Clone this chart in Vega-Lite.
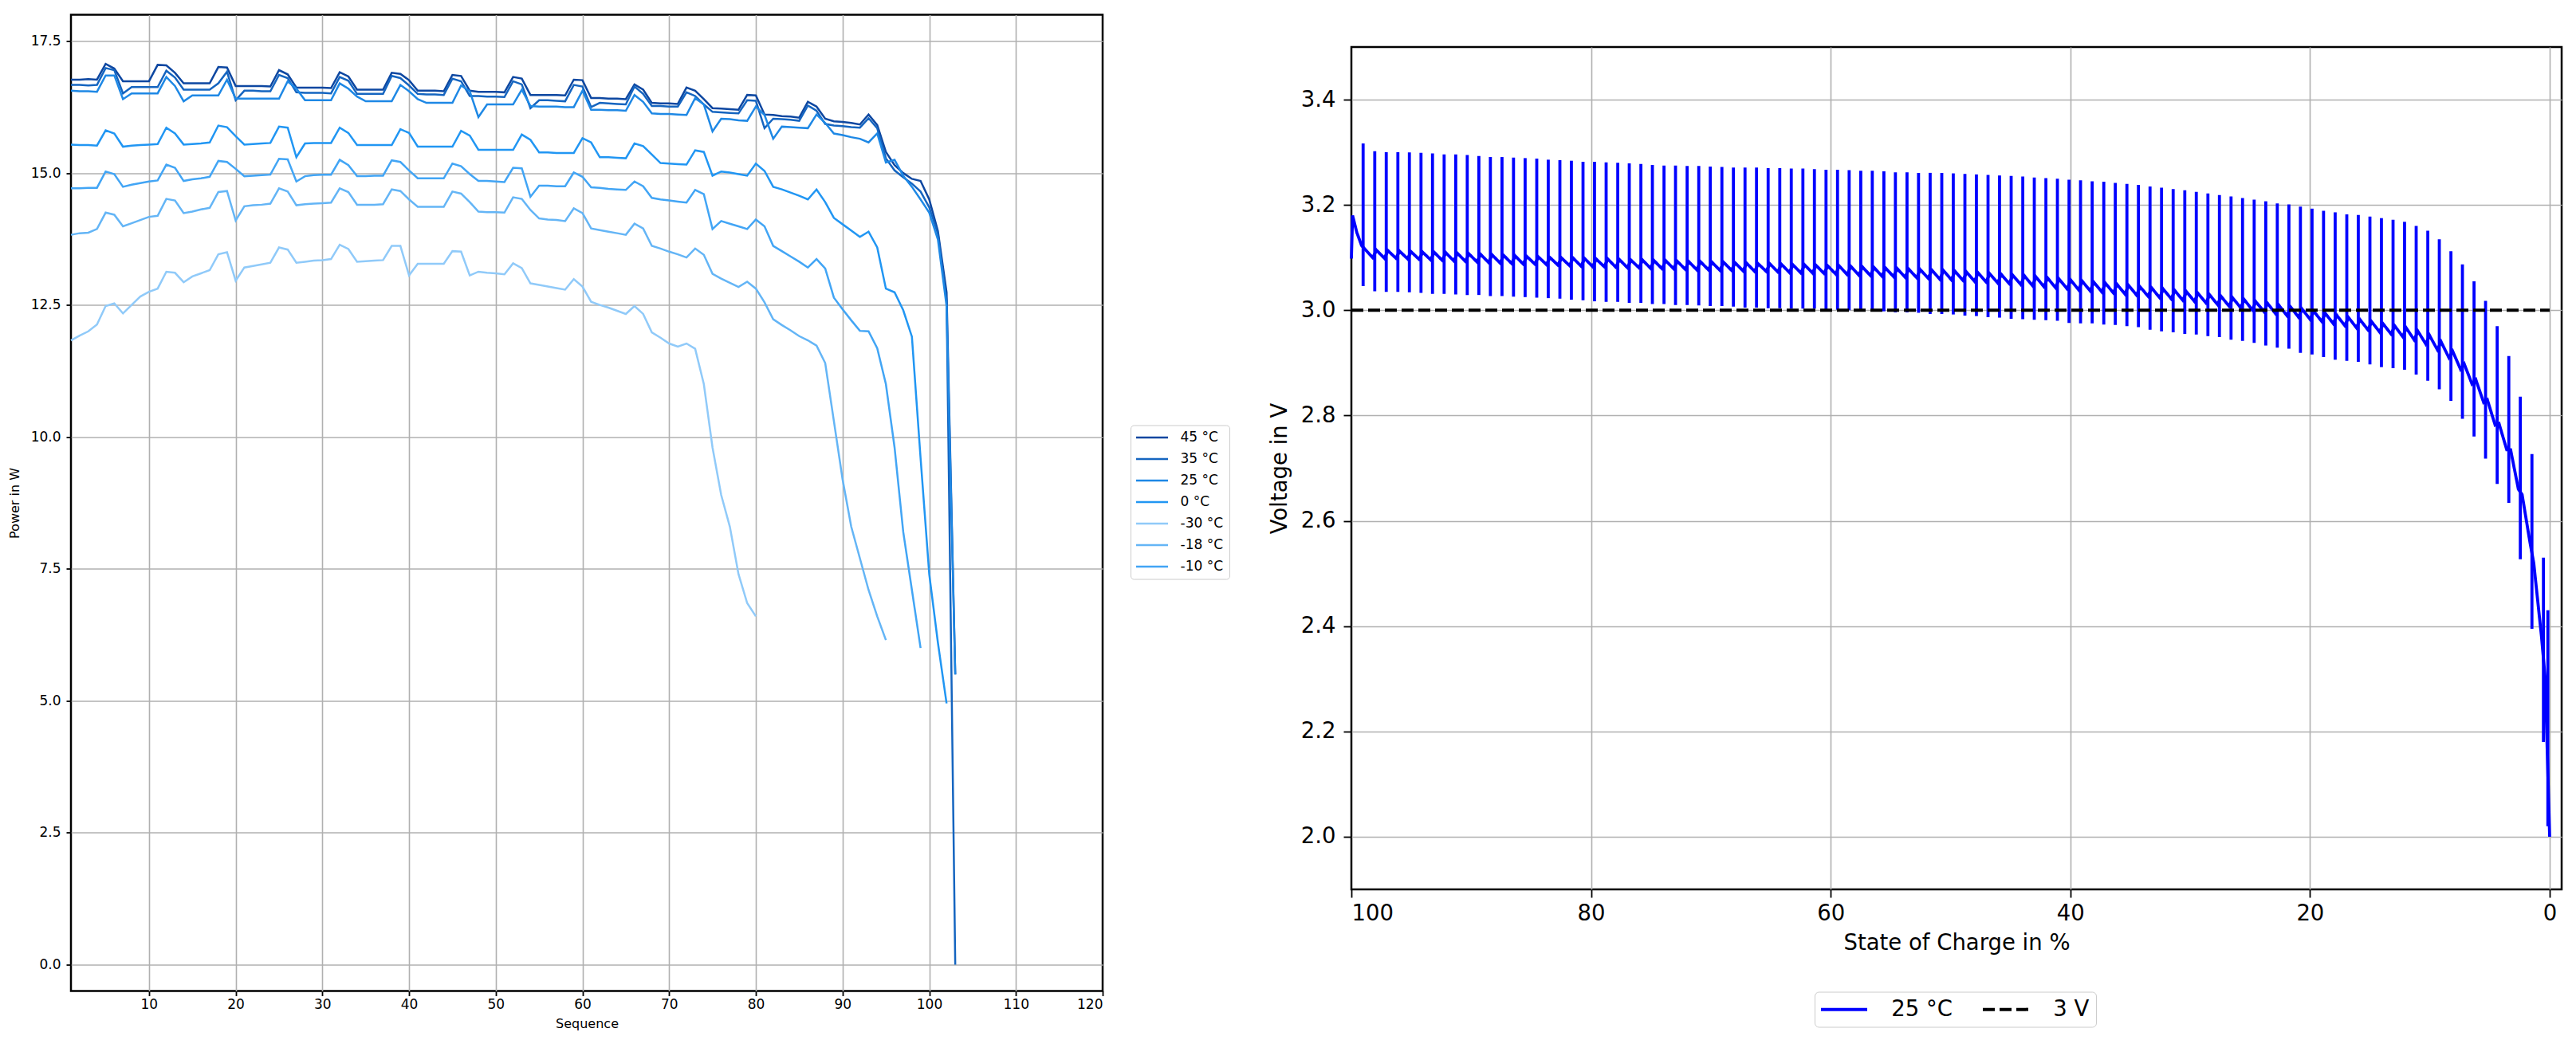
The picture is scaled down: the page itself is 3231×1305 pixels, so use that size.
{
  "$schema": "https://vega.github.io/schema/vega-lite/v6.json",
  "background": "white",
  "padding": {"left": 8, "top": 16.5, "right": 0, "bottom": 0},
  "spacing": 46,
  "config": {
    "font": "DejaVu Sans",
    "view": {"stroke": "#000000", "strokeWidth": 2.5},
    "axis": {
      "domain": false,
      "gridColor": "#b0b0b0",
      "gridWidth": 1.6,
      "tickColor": "#000000",
      "tickWidth": 1.8,
      "labelColor": "#000000",
      "titleColor": "#000000",
      "titleFontWeight": "normal",
      "labelFont": "DejaVu Sans",
      "titleFont": "DejaVu Sans"
    },
    "legend": {"labelFont": "DejaVu Sans", "labelColor": "#000000"}
  },
  "resolve": {
    "scale": {"color": "independent", "strokeDash": "independent"},
    "legend": {"color": "independent", "strokeDash": "independent"}
  },
  "hconcat": [
    {
      "width": 1294,
      "height": 1225,
      "data": {
        "values": [
          {"T":"45 °C","x":1,"y":16.77},{"T":"45 °C","x":2,"y":16.77},{"T":"45 °C","x":3,"y":16.78},{"T":"45 °C","x":4,"y":16.77},{"T":"45 °C","x":5,"y":17.07},{"T":"45 °C","x":6,"y":16.98},{"T":"45 °C","x":7,"y":16.74},{"T":"45 °C","x":8,"y":16.74},{"T":"45 °C","x":9,"y":16.74},{"T":"45 °C","x":10,"y":16.74},
          {"T":"45 °C","x":11,"y":17.05},{"T":"45 °C","x":12,"y":17.04},{"T":"45 °C","x":13,"y":16.9},{"T":"45 °C","x":14,"y":16.7},{"T":"45 °C","x":15,"y":16.7},{"T":"45 °C","x":16,"y":16.7},{"T":"45 °C","x":17,"y":16.7},{"T":"45 °C","x":18,"y":17.01},{"T":"45 °C","x":19,"y":17.0},{"T":"45 °C","x":20,"y":16.65},
          {"T":"45 °C","x":21,"y":16.65},{"T":"45 °C","x":22,"y":16.65},{"T":"45 °C","x":23,"y":16.65},{"T":"45 °C","x":24,"y":16.64},{"T":"45 °C","x":25,"y":16.95},{"T":"45 °C","x":26,"y":16.87},{"T":"45 °C","x":27,"y":16.62},{"T":"45 °C","x":28,"y":16.62},{"T":"45 °C","x":29,"y":16.62},{"T":"45 °C","x":30,"y":16.62},
          {"T":"45 °C","x":31,"y":16.61},{"T":"45 °C","x":32,"y":16.91},{"T":"45 °C","x":33,"y":16.83},{"T":"45 °C","x":34,"y":16.58},{"T":"45 °C","x":35,"y":16.58},{"T":"45 °C","x":36,"y":16.58},{"T":"45 °C","x":37,"y":16.58},{"T":"45 °C","x":38,"y":16.9},{"T":"45 °C","x":39,"y":16.88},{"T":"45 °C","x":40,"y":16.76},
          {"T":"45 °C","x":41,"y":16.56},{"T":"45 °C","x":42,"y":16.56},{"T":"45 °C","x":43,"y":16.56},{"T":"45 °C","x":44,"y":16.55},{"T":"45 °C","x":45,"y":16.86},{"T":"45 °C","x":46,"y":16.84},{"T":"45 °C","x":47,"y":16.56},{"T":"45 °C","x":48,"y":16.54},{"T":"45 °C","x":49,"y":16.54},{"T":"45 °C","x":50,"y":16.54},
          {"T":"45 °C","x":51,"y":16.53},{"T":"45 °C","x":52,"y":16.82},{"T":"45 °C","x":53,"y":16.79},{"T":"45 °C","x":54,"y":16.48},{"T":"45 °C","x":55,"y":16.48},{"T":"45 °C","x":56,"y":16.48},{"T":"45 °C","x":57,"y":16.48},{"T":"45 °C","x":58,"y":16.47},{"T":"45 °C","x":59,"y":16.77},{"T":"45 °C","x":60,"y":16.76},
          {"T":"45 °C","x":61,"y":16.42},{"T":"45 °C","x":62,"y":16.42},{"T":"45 °C","x":63,"y":16.41},{"T":"45 °C","x":64,"y":16.41},{"T":"45 °C","x":65,"y":16.4},{"T":"45 °C","x":66,"y":16.68},{"T":"45 °C","x":67,"y":16.58},{"T":"45 °C","x":68,"y":16.33},{"T":"45 °C","x":69,"y":16.32},{"T":"45 °C","x":70,"y":16.32},
          {"T":"45 °C","x":71,"y":16.31},{"T":"45 °C","x":72,"y":16.62},{"T":"45 °C","x":73,"y":16.56},{"T":"45 °C","x":74,"y":16.4},{"T":"45 °C","x":75,"y":16.23},{"T":"45 °C","x":76,"y":16.22},{"T":"45 °C","x":77,"y":16.21},{"T":"45 °C","x":78,"y":16.2},{"T":"45 °C","x":79,"y":16.48},{"T":"45 °C","x":80,"y":16.47},
          {"T":"45 °C","x":81,"y":16.11},{"T":"45 °C","x":82,"y":16.1},{"T":"45 °C","x":83,"y":16.08},{"T":"45 °C","x":84,"y":16.07},{"T":"45 °C","x":85,"y":16.05},{"T":"45 °C","x":86,"y":16.35},{"T":"45 °C","x":87,"y":16.26},{"T":"45 °C","x":88,"y":16.03},{"T":"45 °C","x":89,"y":15.98},{"T":"45 °C","x":90,"y":15.97},
          {"T":"45 °C","x":91,"y":15.95},{"T":"45 °C","x":92,"y":15.92},{"T":"45 °C","x":93,"y":16.11},{"T":"45 °C","x":94,"y":15.91},{"T":"45 °C","x":95,"y":15.4},{"T":"45 °C","x":96,"y":15.15},{"T":"45 °C","x":97,"y":15.0},{"T":"45 °C","x":98,"y":14.89},{"T":"45 °C","x":99,"y":14.85},{"T":"45 °C","x":100,"y":14.5},
          {"T":"45 °C","x":101,"y":13.9},{"T":"45 °C","x":102,"y":12.74},{"T":"45 °C","x":103,"y":5.5},

          {"T":"35 °C","x":1,"y":16.67},{"T":"35 °C","x":2,"y":16.67},{"T":"35 °C","x":3,"y":16.66},{"T":"35 °C","x":4,"y":16.67},{"T":"35 °C","x":5,"y":16.99},{"T":"35 °C","x":6,"y":16.95},{"T":"35 °C","x":7,"y":16.51},{"T":"35 °C","x":8,"y":16.63},{"T":"35 °C","x":9,"y":16.63},{"T":"35 °C","x":10,"y":16.63},
          {"T":"35 °C","x":11,"y":16.63},{"T":"35 °C","x":12,"y":16.94},{"T":"35 °C","x":13,"y":16.81},{"T":"35 °C","x":14,"y":16.58},{"T":"35 °C","x":15,"y":16.58},{"T":"35 °C","x":16,"y":16.58},{"T":"35 °C","x":17,"y":16.58},{"T":"35 °C","x":18,"y":16.7},{"T":"35 °C","x":19,"y":16.92},{"T":"35 °C","x":20,"y":16.38},
          {"T":"35 °C","x":21,"y":16.56},{"T":"35 °C","x":22,"y":16.56},{"T":"35 °C","x":23,"y":16.55},{"T":"35 °C","x":24,"y":16.55},{"T":"35 °C","x":25,"y":16.86},{"T":"35 °C","x":26,"y":16.8},{"T":"35 °C","x":27,"y":16.53},{"T":"35 °C","x":28,"y":16.52},{"T":"35 °C","x":29,"y":16.52},{"T":"35 °C","x":30,"y":16.52},
          {"T":"35 °C","x":31,"y":16.51},{"T":"35 °C","x":32,"y":16.82},{"T":"35 °C","x":33,"y":16.75},{"T":"35 °C","x":34,"y":16.5},{"T":"35 °C","x":35,"y":16.5},{"T":"35 °C","x":36,"y":16.5},{"T":"35 °C","x":37,"y":16.5},{"T":"35 °C","x":38,"y":16.84},{"T":"35 °C","x":39,"y":16.8},{"T":"35 °C","x":40,"y":16.66},
          {"T":"35 °C","x":41,"y":16.5},{"T":"35 °C","x":42,"y":16.49},{"T":"35 °C","x":43,"y":16.49},{"T":"35 °C","x":44,"y":16.48},{"T":"35 °C","x":45,"y":16.79},{"T":"35 °C","x":46,"y":16.74},{"T":"35 °C","x":47,"y":16.46},{"T":"35 °C","x":48,"y":16.46},{"T":"35 °C","x":49,"y":16.45},{"T":"35 °C","x":50,"y":16.45},
          {"T":"35 °C","x":51,"y":16.44},{"T":"35 °C","x":52,"y":16.74},{"T":"35 °C","x":53,"y":16.68},{"T":"35 °C","x":54,"y":16.23},{"T":"35 °C","x":55,"y":16.38},{"T":"35 °C","x":56,"y":16.38},{"T":"35 °C","x":57,"y":16.37},{"T":"35 °C","x":58,"y":16.36},{"T":"35 °C","x":59,"y":16.67},{"T":"35 °C","x":60,"y":16.64},
          {"T":"35 °C","x":61,"y":16.25},{"T":"35 °C","x":62,"y":16.33},{"T":"35 °C","x":63,"y":16.32},{"T":"35 °C","x":64,"y":16.31},{"T":"35 °C","x":65,"y":16.3},{"T":"35 °C","x":66,"y":16.64},{"T":"35 °C","x":67,"y":16.5},{"T":"35 °C","x":68,"y":16.27},{"T":"35 °C","x":69,"y":16.27},{"T":"35 °C","x":70,"y":16.26},
          {"T":"35 °C","x":71,"y":16.26},{"T":"35 °C","x":72,"y":16.53},{"T":"35 °C","x":73,"y":16.46},{"T":"35 °C","x":74,"y":16.3},{"T":"35 °C","x":75,"y":16.16},{"T":"35 °C","x":76,"y":16.15},{"T":"35 °C","x":77,"y":16.14},{"T":"35 °C","x":78,"y":16.13},{"T":"35 °C","x":79,"y":16.38},{"T":"35 °C","x":80,"y":16.37},
          {"T":"35 °C","x":81,"y":15.85},{"T":"35 °C","x":82,"y":16.03},{"T":"35 °C","x":83,"y":16.02},{"T":"35 °C","x":84,"y":16.01},{"T":"35 °C","x":85,"y":15.99},{"T":"35 °C","x":86,"y":16.28},{"T":"35 °C","x":87,"y":16.18},{"T":"35 °C","x":88,"y":15.93},{"T":"35 °C","x":89,"y":15.9},{"T":"35 °C","x":90,"y":15.89},
          {"T":"35 °C","x":91,"y":15.87},{"T":"35 °C","x":92,"y":15.86},{"T":"35 °C","x":93,"y":16.04},{"T":"35 °C","x":94,"y":15.85},{"T":"35 °C","x":95,"y":15.28},{"T":"35 °C","x":96,"y":15.05},{"T":"35 °C","x":97,"y":14.92},{"T":"35 °C","x":98,"y":14.8},{"T":"35 °C","x":99,"y":14.65},{"T":"35 °C","x":100,"y":14.35},
          {"T":"35 °C","x":101,"y":13.85},{"T":"35 °C","x":102,"y":12.59},{"T":"35 °C","x":103,"y":0.0},

          {"T":"25 °C","x":1,"y":16.56},{"T":"25 °C","x":2,"y":16.55},{"T":"25 °C","x":3,"y":16.55},{"T":"25 °C","x":4,"y":16.54},{"T":"25 °C","x":5,"y":16.85},{"T":"25 °C","x":6,"y":16.85},{"T":"25 °C","x":7,"y":16.4},{"T":"25 °C","x":8,"y":16.51},{"T":"25 °C","x":9,"y":16.51},{"T":"25 °C","x":10,"y":16.51},
          {"T":"25 °C","x":11,"y":16.51},{"T":"25 °C","x":12,"y":16.82},{"T":"25 °C","x":13,"y":16.65},{"T":"25 °C","x":14,"y":16.36},{"T":"25 °C","x":15,"y":16.47},{"T":"25 °C","x":16,"y":16.47},{"T":"25 °C","x":17,"y":16.47},{"T":"25 °C","x":18,"y":16.47},{"T":"25 °C","x":19,"y":16.77},{"T":"25 °C","x":20,"y":16.41},
          {"T":"25 °C","x":21,"y":16.41},{"T":"25 °C","x":22,"y":16.41},{"T":"25 °C","x":23,"y":16.41},{"T":"25 °C","x":24,"y":16.41},{"T":"25 °C","x":25,"y":16.41},{"T":"25 °C","x":26,"y":16.74},{"T":"25 °C","x":27,"y":16.6},{"T":"25 °C","x":28,"y":16.38},{"T":"25 °C","x":29,"y":16.38},{"T":"25 °C","x":30,"y":16.38},
          {"T":"25 °C","x":31,"y":16.38},{"T":"25 °C","x":32,"y":16.7},{"T":"25 °C","x":33,"y":16.6},{"T":"25 °C","x":34,"y":16.45},{"T":"25 °C","x":35,"y":16.36},{"T":"25 °C","x":36,"y":16.36},{"T":"25 °C","x":37,"y":16.36},{"T":"25 °C","x":38,"y":16.36},{"T":"25 °C","x":39,"y":16.67},{"T":"25 °C","x":40,"y":16.55},
          {"T":"25 °C","x":41,"y":16.4},{"T":"25 °C","x":42,"y":16.33},{"T":"25 °C","x":43,"y":16.33},{"T":"25 °C","x":44,"y":16.33},{"T":"25 °C","x":45,"y":16.33},{"T":"25 °C","x":46,"y":16.66},{"T":"25 °C","x":47,"y":16.55},{"T":"25 °C","x":48,"y":16.06},{"T":"25 °C","x":49,"y":16.3},{"T":"25 °C","x":50,"y":16.3},
          {"T":"25 °C","x":51,"y":16.3},{"T":"25 °C","x":52,"y":16.3},{"T":"25 °C","x":53,"y":16.58},{"T":"25 °C","x":54,"y":16.27},{"T":"25 °C","x":55,"y":16.26},{"T":"25 °C","x":56,"y":16.26},{"T":"25 °C","x":57,"y":16.26},{"T":"25 °C","x":58,"y":16.25},{"T":"25 °C","x":59,"y":16.25},{"T":"25 °C","x":60,"y":16.56},
          {"T":"25 °C","x":61,"y":16.2},{"T":"25 °C","x":62,"y":16.2},{"T":"25 °C","x":63,"y":16.19},{"T":"25 °C","x":64,"y":16.19},{"T":"25 °C","x":65,"y":16.18},{"T":"25 °C","x":66,"y":16.48},{"T":"25 °C","x":67,"y":16.35},{"T":"25 °C","x":68,"y":16.13},{"T":"25 °C","x":69,"y":16.12},{"T":"25 °C","x":70,"y":16.12},
          {"T":"25 °C","x":71,"y":16.11},{"T":"25 °C","x":72,"y":16.1},{"T":"25 °C","x":73,"y":16.42},{"T":"25 °C","x":74,"y":16.3},{"T":"25 °C","x":75,"y":15.79},{"T":"25 °C","x":76,"y":16.03},{"T":"25 °C","x":77,"y":16.02},{"T":"25 °C","x":78,"y":16.0},{"T":"25 °C","x":79,"y":15.99},{"T":"25 °C","x":80,"y":16.26},
          {"T":"25 °C","x":81,"y":16.1},{"T":"25 °C","x":82,"y":15.65},{"T":"25 °C","x":83,"y":15.88},{"T":"25 °C","x":84,"y":15.87},{"T":"25 °C","x":85,"y":15.86},{"T":"25 °C","x":86,"y":15.85},{"T":"25 °C","x":87,"y":16.11},{"T":"25 °C","x":88,"y":15.95},{"T":"25 °C","x":89,"y":15.75},{"T":"25 °C","x":90,"y":15.72},
          {"T":"25 °C","x":91,"y":15.68},{"T":"25 °C","x":92,"y":15.65},{"T":"25 °C","x":93,"y":15.58},{"T":"25 °C","x":94,"y":15.75},{"T":"25 °C","x":95,"y":15.2},{"T":"25 °C","x":96,"y":15.25},{"T":"25 °C","x":97,"y":14.95},{"T":"25 °C","x":98,"y":14.74},{"T":"25 °C","x":99,"y":14.5},{"T":"25 °C","x":100,"y":14.25},
          {"T":"25 °C","x":101,"y":13.74},{"T":"25 °C","x":102,"y":12.48},{"T":"25 °C","x":103,"y":5.5},

          {"T":"0 °C","x":1,"y":15.54},{"T":"0 °C","x":2,"y":15.53},{"T":"0 °C","x":3,"y":15.53},{"T":"0 °C","x":4,"y":15.52},{"T":"0 °C","x":5,"y":15.81},{"T":"0 °C","x":6,"y":15.75},{"T":"0 °C","x":7,"y":15.5},{"T":"0 °C","x":8,"y":15.52},{"T":"0 °C","x":9,"y":15.53},{"T":"0 °C","x":10,"y":15.54},
          {"T":"0 °C","x":11,"y":15.55},{"T":"0 °C","x":12,"y":15.86},{"T":"0 °C","x":13,"y":15.75},{"T":"0 °C","x":14,"y":15.54},{"T":"0 °C","x":15,"y":15.55},{"T":"0 °C","x":16,"y":15.56},{"T":"0 °C","x":17,"y":15.58},{"T":"0 °C","x":18,"y":15.9},{"T":"0 °C","x":19,"y":15.87},{"T":"0 °C","x":20,"y":15.7},
          {"T":"0 °C","x":21,"y":15.54},{"T":"0 °C","x":22,"y":15.55},{"T":"0 °C","x":23,"y":15.56},{"T":"0 °C","x":24,"y":15.57},{"T":"0 °C","x":25,"y":15.88},{"T":"0 °C","x":26,"y":15.86},{"T":"0 °C","x":27,"y":15.3},{"T":"0 °C","x":28,"y":15.56},{"T":"0 °C","x":29,"y":15.57},{"T":"0 °C","x":30,"y":15.57},
          {"T":"0 °C","x":31,"y":15.57},{"T":"0 °C","x":32,"y":15.86},{"T":"0 °C","x":33,"y":15.76},{"T":"0 °C","x":34,"y":15.53},{"T":"0 °C","x":35,"y":15.53},{"T":"0 °C","x":36,"y":15.53},{"T":"0 °C","x":37,"y":15.53},{"T":"0 °C","x":38,"y":15.53},{"T":"0 °C","x":39,"y":15.83},{"T":"0 °C","x":40,"y":15.76},
          {"T":"0 °C","x":41,"y":15.5},{"T":"0 °C","x":42,"y":15.5},{"T":"0 °C","x":43,"y":15.5},{"T":"0 °C","x":44,"y":15.5},{"T":"0 °C","x":45,"y":15.5},{"T":"0 °C","x":46,"y":15.8},{"T":"0 °C","x":47,"y":15.71},{"T":"0 °C","x":48,"y":15.44},{"T":"0 °C","x":49,"y":15.44},{"T":"0 °C","x":50,"y":15.44},
          {"T":"0 °C","x":51,"y":15.44},{"T":"0 °C","x":52,"y":15.44},{"T":"0 °C","x":53,"y":15.73},{"T":"0 °C","x":54,"y":15.63},{"T":"0 °C","x":55,"y":15.39},{"T":"0 °C","x":56,"y":15.39},{"T":"0 °C","x":57,"y":15.38},{"T":"0 °C","x":58,"y":15.38},{"T":"0 °C","x":59,"y":15.38},{"T":"0 °C","x":60,"y":15.66},
          {"T":"0 °C","x":61,"y":15.58},{"T":"0 °C","x":62,"y":15.3},{"T":"0 °C","x":63,"y":15.3},{"T":"0 °C","x":64,"y":15.29},{"T":"0 °C","x":65,"y":15.28},{"T":"0 °C","x":66,"y":15.56},{"T":"0 °C","x":67,"y":15.51},{"T":"0 °C","x":68,"y":15.35},{"T":"0 °C","x":69,"y":15.19},{"T":"0 °C","x":70,"y":15.18},
          {"T":"0 °C","x":71,"y":15.17},{"T":"0 °C","x":72,"y":15.16},{"T":"0 °C","x":73,"y":15.43},{"T":"0 °C","x":74,"y":15.4},{"T":"0 °C","x":75,"y":14.95},{"T":"0 °C","x":76,"y":15.03},{"T":"0 °C","x":77,"y":15.01},{"T":"0 °C","x":78,"y":14.98},{"T":"0 °C","x":79,"y":14.95},{"T":"0 °C","x":80,"y":15.18},
          {"T":"0 °C","x":81,"y":15.04},{"T":"0 °C","x":82,"y":14.74},{"T":"0 °C","x":83,"y":14.69},{"T":"0 °C","x":84,"y":14.63},{"T":"0 °C","x":85,"y":14.57},{"T":"0 °C","x":86,"y":14.5},{"T":"0 °C","x":87,"y":14.69},{"T":"0 °C","x":88,"y":14.45},{"T":"0 °C","x":89,"y":14.15},{"T":"0 °C","x":90,"y":14.03},
          {"T":"0 °C","x":91,"y":13.91},{"T":"0 °C","x":92,"y":13.79},{"T":"0 °C","x":93,"y":13.89},{"T":"0 °C","x":94,"y":13.59},{"T":"0 °C","x":95,"y":12.81},{"T":"0 °C","x":96,"y":12.74},{"T":"0 °C","x":97,"y":12.4},{"T":"0 °C","x":98,"y":11.9},{"T":"0 °C","x":99,"y":9.6},{"T":"0 °C","x":100,"y":7.4},
          {"T":"0 °C","x":101,"y":6.1},{"T":"0 °C","x":102,"y":4.95},

          {"T":"-30 °C","x":1,"y":11.83},{"T":"-30 °C","x":2,"y":11.92},{"T":"-30 °C","x":3,"y":12.0},{"T":"-30 °C","x":4,"y":12.13},{"T":"-30 °C","x":5,"y":12.48},{"T":"-30 °C","x":6,"y":12.53},{"T":"-30 °C","x":7,"y":12.34},{"T":"-30 °C","x":8,"y":12.5},{"T":"-30 °C","x":9,"y":12.66},{"T":"-30 °C","x":10,"y":12.75},
          {"T":"-30 °C","x":11,"y":12.81},{"T":"-30 °C","x":12,"y":13.13},{"T":"-30 °C","x":13,"y":13.11},{"T":"-30 °C","x":14,"y":12.93},{"T":"-30 °C","x":15,"y":13.04},{"T":"-30 °C","x":16,"y":13.1},{"T":"-30 °C","x":17,"y":13.16},{"T":"-30 °C","x":18,"y":13.46},{"T":"-30 °C","x":19,"y":13.5},{"T":"-30 °C","x":20,"y":12.96},
          {"T":"-30 °C","x":21,"y":13.21},{"T":"-30 °C","x":22,"y":13.24},{"T":"-30 °C","x":23,"y":13.27},{"T":"-30 °C","x":24,"y":13.3},{"T":"-30 °C","x":25,"y":13.59},{"T":"-30 °C","x":26,"y":13.55},{"T":"-30 °C","x":27,"y":13.3},{"T":"-30 °C","x":28,"y":13.32},{"T":"-30 °C","x":29,"y":13.34},{"T":"-30 °C","x":30,"y":13.35},
          {"T":"-30 °C","x":31,"y":13.37},{"T":"-30 °C","x":32,"y":13.64},{"T":"-30 °C","x":33,"y":13.56},{"T":"-30 °C","x":34,"y":13.32},{"T":"-30 °C","x":35,"y":13.33},{"T":"-30 °C","x":36,"y":13.34},{"T":"-30 °C","x":37,"y":13.35},{"T":"-30 °C","x":38,"y":13.62},{"T":"-30 °C","x":39,"y":13.62},{"T":"-30 °C","x":40,"y":13.06},
          {"T":"-30 °C","x":41,"y":13.28},{"T":"-30 °C","x":42,"y":13.28},{"T":"-30 °C","x":43,"y":13.28},{"T":"-30 °C","x":44,"y":13.28},{"T":"-30 °C","x":45,"y":13.52},{"T":"-30 °C","x":46,"y":13.51},{"T":"-30 °C","x":47,"y":13.06},{"T":"-30 °C","x":48,"y":13.13},{"T":"-30 °C","x":49,"y":13.11},{"T":"-30 °C","x":50,"y":13.1},
          {"T":"-30 °C","x":51,"y":13.08},{"T":"-30 °C","x":52,"y":13.29},{"T":"-30 °C","x":53,"y":13.2},{"T":"-30 °C","x":54,"y":12.91},{"T":"-30 °C","x":55,"y":12.88},{"T":"-30 °C","x":56,"y":12.85},{"T":"-30 °C","x":57,"y":12.82},{"T":"-30 °C","x":58,"y":12.79},{"T":"-30 °C","x":59,"y":12.99},{"T":"-30 °C","x":60,"y":12.85},
          {"T":"-30 °C","x":61,"y":12.56},{"T":"-30 °C","x":62,"y":12.5},{"T":"-30 °C","x":63,"y":12.45},{"T":"-30 °C","x":64,"y":12.39},{"T":"-30 °C","x":65,"y":12.33},{"T":"-30 °C","x":66,"y":12.48},{"T":"-30 °C","x":67,"y":12.33},{"T":"-30 °C","x":68,"y":11.98},{"T":"-30 °C","x":69,"y":11.88},{"T":"-30 °C","x":70,"y":11.77},
          {"T":"-30 °C","x":71,"y":11.71},{"T":"-30 °C","x":72,"y":11.77},{"T":"-30 °C","x":73,"y":11.67},{"T":"-30 °C","x":74,"y":11.0},{"T":"-30 °C","x":75,"y":9.8},{"T":"-30 °C","x":76,"y":8.9},{"T":"-30 °C","x":77,"y":8.3},{"T":"-30 °C","x":78,"y":7.4},{"T":"-30 °C","x":79,"y":6.85},{"T":"-30 °C","x":80,"y":6.6},

          {"T":"-18 °C","x":1,"y":13.83},{"T":"-18 °C","x":2,"y":13.86},{"T":"-18 °C","x":3,"y":13.87},{"T":"-18 °C","x":4,"y":13.94},{"T":"-18 °C","x":5,"y":14.25},{"T":"-18 °C","x":6,"y":14.21},{"T":"-18 °C","x":7,"y":13.99},{"T":"-18 °C","x":8,"y":14.05},{"T":"-18 °C","x":9,"y":14.11},{"T":"-18 °C","x":10,"y":14.17},
          {"T":"-18 °C","x":11,"y":14.19},{"T":"-18 °C","x":12,"y":14.51},{"T":"-18 °C","x":13,"y":14.48},{"T":"-18 °C","x":14,"y":14.24},{"T":"-18 °C","x":15,"y":14.27},{"T":"-18 °C","x":16,"y":14.31},{"T":"-18 °C","x":17,"y":14.34},{"T":"-18 °C","x":18,"y":14.64},{"T":"-18 °C","x":19,"y":14.66},{"T":"-18 °C","x":20,"y":14.1},
          {"T":"-18 °C","x":21,"y":14.37},{"T":"-18 °C","x":22,"y":14.39},{"T":"-18 °C","x":23,"y":14.4},{"T":"-18 °C","x":24,"y":14.42},{"T":"-18 °C","x":25,"y":14.71},{"T":"-18 °C","x":26,"y":14.65},{"T":"-18 °C","x":27,"y":14.39},{"T":"-18 °C","x":28,"y":14.41},{"T":"-18 °C","x":29,"y":14.42},{"T":"-18 °C","x":30,"y":14.43},
          {"T":"-18 °C","x":31,"y":14.44},{"T":"-18 °C","x":32,"y":14.71},{"T":"-18 °C","x":33,"y":14.64},{"T":"-18 °C","x":34,"y":14.4},{"T":"-18 °C","x":35,"y":14.4},{"T":"-18 °C","x":36,"y":14.4},{"T":"-18 °C","x":37,"y":14.41},{"T":"-18 °C","x":38,"y":14.69},{"T":"-18 °C","x":39,"y":14.66},{"T":"-18 °C","x":40,"y":14.5},
          {"T":"-18 °C","x":41,"y":14.36},{"T":"-18 °C","x":42,"y":14.36},{"T":"-18 °C","x":43,"y":14.36},{"T":"-18 °C","x":44,"y":14.36},{"T":"-18 °C","x":45,"y":14.65},{"T":"-18 °C","x":46,"y":14.61},{"T":"-18 °C","x":47,"y":14.45},{"T":"-18 °C","x":48,"y":14.27},{"T":"-18 °C","x":49,"y":14.26},{"T":"-18 °C","x":50,"y":14.26},
          {"T":"-18 °C","x":51,"y":14.25},{"T":"-18 °C","x":52,"y":14.54},{"T":"-18 °C","x":53,"y":14.51},{"T":"-18 °C","x":54,"y":14.3},{"T":"-18 °C","x":55,"y":14.14},{"T":"-18 °C","x":56,"y":14.12},{"T":"-18 °C","x":57,"y":14.11},{"T":"-18 °C","x":58,"y":14.09},{"T":"-18 °C","x":59,"y":14.33},{"T":"-18 °C","x":60,"y":14.24},
          {"T":"-18 °C","x":61,"y":13.95},{"T":"-18 °C","x":62,"y":13.92},{"T":"-18 °C","x":63,"y":13.89},{"T":"-18 °C","x":64,"y":13.86},{"T":"-18 °C","x":65,"y":13.83},{"T":"-18 °C","x":66,"y":14.04},{"T":"-18 °C","x":67,"y":13.95},{"T":"-18 °C","x":68,"y":13.62},{"T":"-18 °C","x":69,"y":13.57},{"T":"-18 °C","x":70,"y":13.51},
          {"T":"-18 °C","x":71,"y":13.46},{"T":"-18 °C","x":72,"y":13.4},{"T":"-18 °C","x":73,"y":13.57},{"T":"-18 °C","x":74,"y":13.45},{"T":"-18 °C","x":75,"y":13.09},{"T":"-18 °C","x":76,"y":13.0},{"T":"-18 °C","x":77,"y":12.92},{"T":"-18 °C","x":78,"y":12.84},{"T":"-18 °C","x":79,"y":12.94},{"T":"-18 °C","x":80,"y":12.81},
          {"T":"-18 °C","x":81,"y":12.55},{"T":"-18 °C","x":82,"y":12.23},{"T":"-18 °C","x":83,"y":12.12},{"T":"-18 °C","x":84,"y":12.02},{"T":"-18 °C","x":85,"y":11.91},{"T":"-18 °C","x":86,"y":11.83},{"T":"-18 °C","x":87,"y":11.73},{"T":"-18 °C","x":88,"y":11.4},{"T":"-18 °C","x":89,"y":10.3},{"T":"-18 °C","x":90,"y":9.2},
          {"T":"-18 °C","x":91,"y":8.3},{"T":"-18 °C","x":92,"y":7.7},{"T":"-18 °C","x":93,"y":7.1},{"T":"-18 °C","x":94,"y":6.6},{"T":"-18 °C","x":95,"y":6.15},

          {"T":"-10 °C","x":1,"y":14.71},{"T":"-10 °C","x":2,"y":14.71},{"T":"-10 °C","x":3,"y":14.72},{"T":"-10 °C","x":4,"y":14.72},{"T":"-10 °C","x":5,"y":15.03},{"T":"-10 °C","x":6,"y":14.98},{"T":"-10 °C","x":7,"y":14.74},{"T":"-10 °C","x":8,"y":14.78},{"T":"-10 °C","x":9,"y":14.81},{"T":"-10 °C","x":10,"y":14.84},
          {"T":"-10 °C","x":11,"y":14.86},{"T":"-10 °C","x":12,"y":15.16},{"T":"-10 °C","x":13,"y":15.1},{"T":"-10 °C","x":14,"y":14.85},{"T":"-10 °C","x":15,"y":14.88},{"T":"-10 °C","x":16,"y":14.9},{"T":"-10 °C","x":17,"y":14.93},{"T":"-10 °C","x":18,"y":15.23},{"T":"-10 °C","x":19,"y":15.21},{"T":"-10 °C","x":20,"y":15.08},
          {"T":"-10 °C","x":21,"y":14.94},{"T":"-10 °C","x":22,"y":14.95},{"T":"-10 °C","x":23,"y":14.96},{"T":"-10 °C","x":24,"y":14.97},{"T":"-10 °C","x":25,"y":15.27},{"T":"-10 °C","x":26,"y":15.26},{"T":"-10 °C","x":27,"y":14.84},{"T":"-10 °C","x":28,"y":14.94},{"T":"-10 °C","x":29,"y":14.96},{"T":"-10 °C","x":30,"y":14.97},
          {"T":"-10 °C","x":31,"y":14.97},{"T":"-10 °C","x":32,"y":15.25},{"T":"-10 °C","x":33,"y":15.15},{"T":"-10 °C","x":34,"y":14.94},{"T":"-10 °C","x":35,"y":14.94},{"T":"-10 °C","x":36,"y":14.95},{"T":"-10 °C","x":37,"y":14.95},{"T":"-10 °C","x":38,"y":15.24},{"T":"-10 °C","x":39,"y":15.21},{"T":"-10 °C","x":40,"y":15.05},
          {"T":"-10 °C","x":41,"y":14.9},{"T":"-10 °C","x":42,"y":14.9},{"T":"-10 °C","x":43,"y":14.9},{"T":"-10 °C","x":44,"y":14.9},{"T":"-10 °C","x":45,"y":15.18},{"T":"-10 °C","x":46,"y":15.13},{"T":"-10 °C","x":47,"y":14.98},{"T":"-10 °C","x":48,"y":14.85},{"T":"-10 °C","x":49,"y":14.85},{"T":"-10 °C","x":50,"y":14.84},
          {"T":"-10 °C","x":51,"y":14.83},{"T":"-10 °C","x":52,"y":15.1},{"T":"-10 °C","x":53,"y":15.09},{"T":"-10 °C","x":54,"y":14.55},{"T":"-10 °C","x":55,"y":14.76},{"T":"-10 °C","x":56,"y":14.76},{"T":"-10 °C","x":57,"y":14.75},{"T":"-10 °C","x":58,"y":14.75},{"T":"-10 °C","x":59,"y":15.01},{"T":"-10 °C","x":60,"y":14.93},
          {"T":"-10 °C","x":61,"y":14.73},{"T":"-10 °C","x":62,"y":14.72},{"T":"-10 °C","x":63,"y":14.7},{"T":"-10 °C","x":64,"y":14.69},{"T":"-10 °C","x":65,"y":14.68},{"T":"-10 °C","x":66,"y":14.84},{"T":"-10 °C","x":67,"y":14.75},{"T":"-10 °C","x":68,"y":14.53},{"T":"-10 °C","x":69,"y":14.5},{"T":"-10 °C","x":70,"y":14.48},
          {"T":"-10 °C","x":71,"y":14.46},{"T":"-10 °C","x":72,"y":14.44},{"T":"-10 °C","x":73,"y":14.68},{"T":"-10 °C","x":74,"y":14.6},{"T":"-10 °C","x":75,"y":13.94},{"T":"-10 °C","x":76,"y":14.09},{"T":"-10 °C","x":77,"y":14.04},{"T":"-10 °C","x":78,"y":13.99},{"T":"-10 °C","x":79,"y":13.94},{"T":"-10 °C","x":80,"y":14.12},
          {"T":"-10 °C","x":81,"y":13.99},{"T":"-10 °C","x":82,"y":13.62},{"T":"-10 °C","x":83,"y":13.52},{"T":"-10 °C","x":84,"y":13.42},{"T":"-10 °C","x":85,"y":13.32},{"T":"-10 °C","x":86,"y":13.21},{"T":"-10 °C","x":87,"y":13.37},{"T":"-10 °C","x":88,"y":13.19},{"T":"-10 °C","x":89,"y":12.64},{"T":"-10 °C","x":90,"y":12.42},
          {"T":"-10 °C","x":91,"y":12.21},{"T":"-10 °C","x":92,"y":12.01},{"T":"-10 °C","x":93,"y":12.0},{"T":"-10 °C","x":94,"y":11.68},{"T":"-10 °C","x":95,"y":11.0},{"T":"-10 °C","x":96,"y":9.8},{"T":"-10 °C","x":97,"y":8.2},{"T":"-10 °C","x":98,"y":7.1},{"T":"-10 °C","x":99,"y":6.0}
        ]
      },
      "mark": {"type": "line", "strokeWidth": 2.5},
      "encoding": {
        "x": {
          "field": "x",
          "type": "quantitative",
          "scale": {"domain": [1, 120], "nice": false, "zero": false},
          "axis": {
            "values": [10, 20, 30, 40, 50, 60, 70, 80, 90, 100, 110, 120],
            "format": "d",
            "title": "Sequence",
            "labelFontSize": 17,
            "titleFontSize": 16,
            "tickSize": 6,
            "labelPadding": 3,
            "titlePadding": 8,
            "gridColor": {"condition": {"test": "datum.value === 120", "value": "transparent"}, "value": "#b0b0b0"}
          }
        },
        "y": {
          "field": "y",
          "type": "quantitative",
          "scale": {"domain": [-0.5, 18], "nice": false, "zero": false},
          "axis": {
            "values": [0, 2.5, 5, 7.5, 10, 12.5, 15, 17.5],
            "format": ".1f",
            "title": "Power in W",
            "labelFontSize": 17,
            "titleFontSize": 16,
            "tickSize": 6,
            "labelPadding": 7,
            "titlePadding": 12
          }
        },
        "color": {
          "field": "T",
          "type": "nominal",
          "scale": {
            "domain": ["45 °C", "35 °C", "25 °C", "0 °C", "-30 °C", "-18 °C", "-10 °C"],
            "range": ["#0d47a1", "#1565c0", "#1e88e5", "#2196f3", "#90caf9", "#64b5f6", "#42a5f5"]
          },
          "legend": {
            "title": null,
            "orient": "none",
            "legendX": 1329,
            "legendY": 515,
            "symbolType": "M-2.86,0H2.86",
            "symbolSize": 196,
            "symbolStrokeWidth": 2.7,
            "symbolOffset": 11.5,
            "labelOffset": 27,
            "labelFontSize": 17,
            "rowPadding": 9,
            "padding": 7,
            "strokeColor": "#cccccc",
            "cornerRadius": 4,
            "fillColor": "#ffffff"
          }
        }
      }
    },
    {
      "spacing": 18.5,
      "vconcat": [
        {
          "width": 10,
          "height": 20,
          "view": {"stroke": null, "fill": "#ffffff"},
          "data": {"values": []},
          "mark": {"type": "point"},
          "encoding": {}
        },
        {
          "width": 1518,
          "height": 1057,
          "layer": [
            {
              "data": {
                "values": [
                  {"s":100,"v":3.098},{"s":99.9,"v":3.18},{"s":99.55,"v":3.148},{"s":99.15,"v":3.123},
                  {"s":98.87,"v":3.116},{"s":98.22,"v":3.1},{"s":97.9,"v":3.114},{"s":97.25,"v":3.099},{"s":96.94,"v":3.113},{"s":96.29,"v":3.099},{"s":95.97,"v":3.112},{"s":95.32,"v":3.098},{"s":95.01,"v":3.111},{"s":94.36,"v":3.097},
                  {"s":94.04,"v":3.11},{"s":93.39,"v":3.096},{"s":93.08,"v":3.11},{"s":92.43,"v":3.095},{"s":92.11,"v":3.109},{"s":91.46,"v":3.094},{"s":91.14,"v":3.108},{"s":90.49,"v":3.093},{"s":90.18,"v":3.107},{"s":89.53,"v":3.092},
                  {"s":89.21,"v":3.106},{"s":88.56,"v":3.091},{"s":88.25,"v":3.105},{"s":87.6,"v":3.09},{"s":87.28,"v":3.104},{"s":86.63,"v":3.089},{"s":86.32,"v":3.103},{"s":85.67,"v":3.088},{"s":85.35,"v":3.102},{"s":84.7,"v":3.088},
                  {"s":84.38,"v":3.101},{"s":83.73,"v":3.087},{"s":83.42,"v":3.1},{"s":82.77,"v":3.086},{"s":82.45,"v":3.099},{"s":81.8,"v":3.085},{"s":81.49,"v":3.099},{"s":80.84,"v":3.084},{"s":80.52,"v":3.098},{"s":79.87,"v":3.083},
                  {"s":79.56,"v":3.097},{"s":78.91,"v":3.083},{"s":78.59,"v":3.097},{"s":77.94,"v":3.082},{"s":77.62,"v":3.096},{"s":76.97,"v":3.081},{"s":76.66,"v":3.095},{"s":76.01,"v":3.081},{"s":75.69,"v":3.095},{"s":75.04,"v":3.08},
                  {"s":74.73,"v":3.094},{"s":74.08,"v":3.079},{"s":73.76,"v":3.094},{"s":73.11,"v":3.079},{"s":72.8,"v":3.093},{"s":72.15,"v":3.078},{"s":71.83,"v":3.092},{"s":71.18,"v":3.077},{"s":70.86,"v":3.092},{"s":70.21,"v":3.077},
                  {"s":69.9,"v":3.091},{"s":69.25,"v":3.076},{"s":68.93,"v":3.091},{"s":68.28,"v":3.076},{"s":67.97,"v":3.09},{"s":67.32,"v":3.075},{"s":67.0,"v":3.089},{"s":66.35,"v":3.074},{"s":66.04,"v":3.088},{"s":65.39,"v":3.074},
                  {"s":65.07,"v":3.088},{"s":64.42,"v":3.073},{"s":64.1,"v":3.087},{"s":63.45,"v":3.072},{"s":63.14,"v":3.086},{"s":62.49,"v":3.071},{"s":62.17,"v":3.086},{"s":61.52,"v":3.071},{"s":61.21,"v":3.085},{"s":60.56,"v":3.07},
                  {"s":60.24,"v":3.084},{"s":59.59,"v":3.069},{"s":59.28,"v":3.084},{"s":58.63,"v":3.068},{"s":58.31,"v":3.083},{"s":57.66,"v":3.067},{"s":57.34,"v":3.082},{"s":56.69,"v":3.066},{"s":56.38,"v":3.081},{"s":55.73,"v":3.065},
                  {"s":55.41,"v":3.08},{"s":54.76,"v":3.064},{"s":54.45,"v":3.079},{"s":53.8,"v":3.063},{"s":53.48,"v":3.078},{"s":52.83,"v":3.062},{"s":52.52,"v":3.077},{"s":51.87,"v":3.061},{"s":51.55,"v":3.076},{"s":50.9,"v":3.059},
                  {"s":50.58,"v":3.075},{"s":49.93,"v":3.058},{"s":49.62,"v":3.074},{"s":48.97,"v":3.057},{"s":48.65,"v":3.072},{"s":48.0,"v":3.055},{"s":47.69,"v":3.071},{"s":47.04,"v":3.054},{"s":46.72,"v":3.069},{"s":46.07,"v":3.052},
                  {"s":45.76,"v":3.068},{"s":45.11,"v":3.051},{"s":44.79,"v":3.066},{"s":44.14,"v":3.049},{"s":43.82,"v":3.065},{"s":43.17,"v":3.047},{"s":42.86,"v":3.063},{"s":42.21,"v":3.045},{"s":41.89,"v":3.061},{"s":41.24,"v":3.043},
                  {"s":40.93,"v":3.059},{"s":40.28,"v":3.041},{"s":39.96,"v":3.057},{"s":39.31,"v":3.039},{"s":39.0,"v":3.055},{"s":38.35,"v":3.037},{"s":38.03,"v":3.053},{"s":37.38,"v":3.035},{"s":37.06,"v":3.051},{"s":36.41,"v":3.033},
                  {"s":36.1,"v":3.049},{"s":35.45,"v":3.031},{"s":35.13,"v":3.047},{"s":34.48,"v":3.029},{"s":34.17,"v":3.044},{"s":33.52,"v":3.027},{"s":33.2,"v":3.042},{"s":32.55,"v":3.024},{"s":32.24,"v":3.04},{"s":31.59,"v":3.022},
                  {"s":31.27,"v":3.037},{"s":30.62,"v":3.019},{"s":30.3,"v":3.035},{"s":29.65,"v":3.017},{"s":29.34,"v":3.032},{"s":28.69,"v":3.014},{"s":28.37,"v":3.029},{"s":27.72,"v":3.011},{"s":27.41,"v":3.026},{"s":26.76,"v":3.008},
                  {"s":26.44,"v":3.023},{"s":25.79,"v":3.005},{"s":25.48,"v":3.02},{"s":24.83,"v":3.001},{"s":24.51,"v":3.016},{"s":23.86,"v":2.998},{"s":23.54,"v":3.013},{"s":22.89,"v":2.994},{"s":22.58,"v":3.009},{"s":21.93,"v":2.99},
                  {"s":21.61,"v":3.006},{"s":20.96,"v":2.987},{"s":20.65,"v":3.002},{"s":20.0,"v":2.983},{"s":19.68,"v":2.998},{"s":19.03,"v":2.979},{"s":18.72,"v":2.994},{"s":18.07,"v":2.975},{"s":17.75,"v":2.99},{"s":17.1,"v":2.971},
                  {"s":16.78,"v":2.986},{"s":16.13,"v":2.967},{"s":15.82,"v":2.982},{"s":15.17,"v":2.963},{"s":14.85,"v":2.978},{"s":14.2,"v":2.959},{"s":13.89,"v":2.974},{"s":13.24,"v":2.955},{"s":12.92,"v":2.97},{"s":12.27,"v":2.95},
                  {"s":11.96,"v":2.966},{"s":11.31,"v":2.944},{"s":10.99,"v":2.96},{"s":10.34,"v":2.936},{"s":10.02,"v":2.952},{"s":9.37,"v":2.925},{"s":9.06,"v":2.94},{"s":8.41,"v":2.91},{"s":8.09,"v":2.922},{"s":7.44,"v":2.888},
                  {"s":7.13,"v":2.898},{"s":6.48,"v":2.86},{"s":6.16,"v":2.868},{"s":5.51,"v":2.825},{"s":5.2,"v":2.83},{"s":4.55,"v":2.782},{"s":4.23,"v":2.785},{"s":3.58,"v":2.735},{"s":3.26,"v":2.735},{"s":2.61,"v":2.66},
                  {"s":2.3,"v":2.65},{"s":1.65,"v":2.56},{"s":1.33,"v":2.52},{"s":0.68,"v":2.38},{"s":0.37,"v":2.3},{"s":0.0,"v":2.0}
                ]
              },
              "mark": {"type": "line", "strokeWidth": 3.8},
              "encoding": {
                "x": {
                  "field": "s",
                  "type": "quantitative",
                  "scale": {"domain": [-1, 100], "reverse": true, "nice": false, "zero": false},
                  "axis": {
                    "values": [100, 80, 60, 40, 20, 0],
                    "format": "d",
                    "title": "State of Charge in %",
                    "labelFontSize": 27.5,
                    "titleFontSize": 27.5,
                    "tickSize": 10,
                    "labelPadding": 6,
                    "titlePadding": 10,
                    "gridColor": {"condition": {"test": "datum.value === 100", "value": "transparent"}, "value": "#b0b0b0"}
                  }
                },
                "y": {
                  "field": "v",
                  "type": "quantitative",
                  "scale": {"domain": [1.9, 3.5], "nice": false, "zero": false},
                  "axis": {
                    "values": [2.0, 2.2, 2.4, 2.6, 2.8, 3.0, 3.2, 3.4],
                    "format": ".1f",
                    "title": "Voltage in V",
                    "labelFontSize": 27.5,
                    "titleFontSize": 27.5,
                    "tickSize": 10,
                    "labelPadding": 10,
                    "titlePadding": 12
                  }
                },
                "color": {
                  "datum": "25 °C",
                  "type": "nominal",
                  "scale": {"domain": ["25 °C", "3 V"], "range": ["#0000ff", "#000000"]},
                  "legend": {
                    "title": null,
                    "orient": "none",
                    "direction": "horizontal",
                    "legendX": 581,
                    "legendY": 1226,
                    "symbolType": "M-2.52,0H2.52",
                    "symbolSize": 529,
                    "symbolStrokeWidth": 4,
                    "symbolOffset": 15.25,
                    "labelOffset": 45.5,
                    "labelFontSize": 27.5,
                    "columnPadding": 30,
                    "padding": 8,
                    "strokeColor": "#cccccc",
                    "cornerRadius": 5,
                    "fillColor": "#ffffff"
                  }
                },
                "strokeDash": {
                  "datum": "25 °C",
                  "type": "nominal",
                  "scale": {"domain": ["25 °C", "3 V"], "range": [[1, 0], [15, 6]]}
                }
              }
            },
            {
              "data": {
                "values": [
                  {"s":99.02,"hi":3.317,"lo":3.046},{"s":98.05,"hi":3.302,"lo":3.036},{"s":97.09,"hi":3.3,"lo":3.035},{"s":96.12,"hi":3.3,"lo":3.035},{"s":95.16,"hi":3.3,"lo":3.034},
                  {"s":94.19,"hi":3.299,"lo":3.033},{"s":93.23,"hi":3.298,"lo":3.031},{"s":92.26,"hi":3.296,"lo":3.031},{"s":91.29,"hi":3.296,"lo":3.03},{"s":90.33,"hi":3.295,"lo":3.029},
                  {"s":89.36,"hi":3.293,"lo":3.029},{"s":88.4,"hi":3.291,"lo":3.027},{"s":87.43,"hi":3.291,"lo":3.027},{"s":86.47,"hi":3.29,"lo":3.026},{"s":85.5,"hi":3.289,"lo":3.025},
                  {"s":84.53,"hi":3.288,"lo":3.024},{"s":83.57,"hi":3.286,"lo":3.023},{"s":82.6,"hi":3.285,"lo":3.022},{"s":81.64,"hi":3.284,"lo":3.02},{"s":80.67,"hi":3.282,"lo":3.019},
                  {"s":79.71,"hi":3.282,"lo":3.017},{"s":78.74,"hi":3.281,"lo":3.016},{"s":77.77,"hi":3.28,"lo":3.016},{"s":76.81,"hi":3.279,"lo":3.014},{"s":75.84,"hi":3.278,"lo":3.014},
                  {"s":74.88,"hi":3.276,"lo":3.012},{"s":73.91,"hi":3.275,"lo":3.012},{"s":72.95,"hi":3.275,"lo":3.01},{"s":71.98,"hi":3.274,"lo":3.01},{"s":71.01,"hi":3.274,"lo":3.009},
                  {"s":70.05,"hi":3.273,"lo":3.008},{"s":69.08,"hi":3.272,"lo":3.008},{"s":68.12,"hi":3.271,"lo":3.007},{"s":67.15,"hi":3.271,"lo":3.005},{"s":66.19,"hi":3.271,"lo":3.005},
                  {"s":65.22,"hi":3.27,"lo":3.004},{"s":64.25,"hi":3.27,"lo":3.004},{"s":63.29,"hi":3.269,"lo":3.003},{"s":62.32,"hi":3.269,"lo":3.003},{"s":61.36,"hi":3.268,"lo":3.003},
                  {"s":60.39,"hi":3.267,"lo":3.001},{"s":59.43,"hi":3.267,"lo":3.001},{"s":58.46,"hi":3.266,"lo":3.0},{"s":57.49,"hi":3.265,"lo":3.0},{"s":56.53,"hi":3.265,"lo":2.998},
                  {"s":55.56,"hi":3.264,"lo":2.998},{"s":54.6,"hi":3.262,"lo":2.996},{"s":53.63,"hi":3.262,"lo":2.996},{"s":52.67,"hi":3.261,"lo":2.995},{"s":51.7,"hi":3.261,"lo":2.993},
                  {"s":50.73,"hi":3.261,"lo":2.993},{"s":49.77,"hi":3.26,"lo":2.992},{"s":48.8,"hi":3.259,"lo":2.99},{"s":47.84,"hi":3.258,"lo":2.989},{"s":46.87,"hi":3.257,"lo":2.987},
                  {"s":45.91,"hi":3.256,"lo":2.986},{"s":44.94,"hi":3.255,"lo":2.984},{"s":43.97,"hi":3.254,"lo":2.983},{"s":43.01,"hi":3.252,"lo":2.982},{"s":42.04,"hi":3.251,"lo":2.981},
                  {"s":41.08,"hi":3.25,"lo":2.98},{"s":40.11,"hi":3.248,"lo":2.976},{"s":39.15,"hi":3.247,"lo":2.975},{"s":38.18,"hi":3.245,"lo":2.975},{"s":37.21,"hi":3.244,"lo":2.973},
                  {"s":36.25,"hi":3.242,"lo":2.972},{"s":35.28,"hi":3.24,"lo":2.97},{"s":34.32,"hi":3.238,"lo":2.968},{"s":33.35,"hi":3.235,"lo":2.963},{"s":32.39,"hi":3.233,"lo":2.96},
                  {"s":31.42,"hi":3.23,"lo":2.958},{"s":30.45,"hi":3.228,"lo":2.955},{"s":29.49,"hi":3.225,"lo":2.954},{"s":28.52,"hi":3.222,"lo":2.951},{"s":27.56,"hi":3.219,"lo":2.949},
                  {"s":26.59,"hi":3.216,"lo":2.944},{"s":25.63,"hi":3.213,"lo":2.942},{"s":24.66,"hi":3.21,"lo":2.938},{"s":23.69,"hi":3.207,"lo":2.933},{"s":22.73,"hi":3.203,"lo":2.929},
                  {"s":21.76,"hi":3.201,"lo":2.927},{"s":20.8,"hi":3.197,"lo":2.919},{"s":19.83,"hi":3.193,"lo":2.916},{"s":18.87,"hi":3.189,"lo":2.911},{"s":17.9,"hi":3.186,"lo":2.906},
                  {"s":16.93,"hi":3.182,"lo":2.904},{"s":15.97,"hi":3.181,"lo":2.902},{"s":15.0,"hi":3.178,"lo":2.897},{"s":14.04,"hi":3.175,"lo":2.892},{"s":13.07,"hi":3.172,"lo":2.89},
                  {"s":12.11,"hi":3.168,"lo":2.887},{"s":11.14,"hi":3.16,"lo":2.878},{"s":10.17,"hi":3.151,"lo":2.866},{"s":9.21,"hi":3.135,"lo":2.85},{"s":8.24,"hi":3.112,"lo":2.828},
                  {"s":7.28,"hi":3.087,"lo":2.794},{"s":6.31,"hi":3.055,"lo":2.76},{"s":5.35,"hi":3.018,"lo":2.718},{"s":4.38,"hi":2.97,"lo":2.67},{"s":3.41,"hi":2.913,"lo":2.634},
                  {"s":2.45,"hi":2.836,"lo":2.527},{"s":1.48,"hi":2.727,"lo":2.395},{"s":0.52,"hi":2.53,"lo":2.18},{"s":0.15,"hi":2.43,"lo":2.02}
                ]
              },
              "mark": {"type": "rule", "strokeWidth": 3.8},
              "encoding": {
                "x": {"field": "s", "type": "quantitative"},
                "y": {"field": "lo", "type": "quantitative"},
                "y2": {"field": "hi"},
                "color": {"datum": "25 °C", "type": "nominal"}
              }
            },
            {
              "data": {"values": [{"s": 100, "v": 3.0}, {"s": 0, "v": 3.0}]},
              "mark": {"type": "line", "strokeWidth": 4},
              "encoding": {
                "x": {"field": "s", "type": "quantitative"},
                "y": {"field": "v", "type": "quantitative"},
                "color": {"datum": "3 V", "type": "nominal"},
                "strokeDash": {"datum": "3 V", "type": "nominal"}
              }
            }
          ]
        }
      ]
    }
  ]
}
